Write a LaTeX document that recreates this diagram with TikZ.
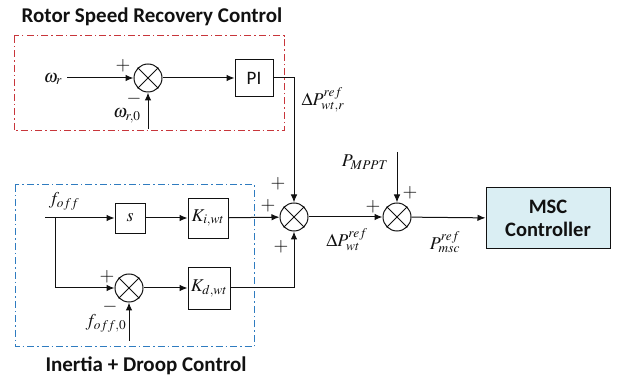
\documentclass[tikz,border=0pt]{standalone}
\usepackage{mathptmx}
\usepackage{fontspec}
\setsansfont{Carlito}
\usepackage{tikz}
\usetikzlibrary{arrows.meta,positioning}
\definecolor{cink}{HTML}{111111}
\definecolor{cred}{HTML}{C8363B}
\definecolor{cblue}{HTML}{2F7CC0}
\definecolor{cfill}{HTML}{DAEEF3}

\begin{document}
\begin{tikzpicture}[x=1pt, y=-1pt,
    sumc/.style={circle, draw=cink, line width=1pt, minimum size=28pt, inner sep=0pt},
    blk/.style={draw=cink, line width=0.9pt, inner sep=0pt, text=cink, font=\fontsize{18}{20}\selectfont},
    lab/.style={inner sep=1pt, text=cink, font=\fontsize{18}{20}\selectfont},
    sg/.style={inner sep=0pt, text=cink, font=\fontsize{19}{21}\selectfont},
    ttl/.style={font=\sffamily\bfseries\fontsize{21}{23}\selectfont, text=cink},
    arr/.style={-{Latex[length=8pt,width=6.5pt]}, cink, line width=1pt},
    ln/.style={cink, line width=1pt},
    grp/.style={line width=1pt, dash pattern=on 7pt off 3pt on 1.5pt off 3pt}]
  \useasboundingbox (0,0) rectangle (632,379);

  % group frames and titles
  \draw[grp, cred] (14,36) rectangle (284,131);
  \draw[grp, cblue] (15,185) rectangle (254,347);
  \node[ttl] (tRS) at (152,17) {Rotor Speed Recovery Control};
  \node[ttl] (tID) at (146,366) {Inertia + Droop Control};

  % blocks
  \node[sumc] (s1) at (148,78) {};
  \node[blk, minimum width=38pt, minimum height=37pt, font=\sffamily\fontsize{19}{21}\selectfont] (pi) at (254,78) {PI};
  \node[sumc] (s2) at (294,217) {};
  \node[blk, minimum width=30pt, minimum height=30pt] (sb) at (130,218) {$s$};
  \node[blk, minimum width=40pt, minimum height=40pt] (ki) at (208,218) {$K_{i,wt}$};
  \node[sumc] (s3) at (129,288) {};
  \node[blk, minimum width=42pt, minimum height=42pt] (kd) at (209,288) {$K_{d,wt}$};
  \node[sumc] (s4) at (397,217) {};
  \node[draw=cink, fill=cfill, line width=1pt, minimum width=124pt, minimum height=61pt,
        align=center, font=\sffamily\bfseries\fontsize{20.5}{23}\selectfont, text=cink] (msc) at (548,218.5) {MSC\\Controller};
  \foreach \s in {s1,s2,s3,s4}
    \draw[ln] (\s.north west) -- (\s.south east) (\s.north east) -- (\s.south west);

  % free ends
  \coordinate (wr) at (67,78);
  \coordinate (wr0) at (148,129);
  \coordinate (fin) at (45,218);
  \coordinate (br) at (55,218);
  \coordinate (f0) at (129,341);
  \coordinate (pm) at (397,152);

  % connectors
  \draw[arr] (wr) -- (s1.west);
  \draw[arr] (wr0) -- (s1.south);
  \draw[arr] (s1) -- (pi);
  \draw[arr] (pi.east) -| (s2.north);
  \draw[arr] (fin) -- (sb);
  \draw[arr] (sb) -- (ki);
  \draw[arr] (ki) -- (s2);
  \draw[arr] (br) |- (s3.west);
  \draw[arr] (f0) -- (s3.south);
  \draw[arr] (s3) -- (kd);
  \draw[arr] (kd.east) -| (s2.south);
  \draw[arr] (s2) -- (s4);
  \draw[arr] (pm) -- (s4.north);
  \draw[arr] (s4) -- (msc);

  % signal labels
  \node[lab] (lwr) at (53,79) {$\omega_r$};
  \node[lab] (lwr0) at (127,116) {$\omega_{r,0}$};
  \node[lab] (ldpr) at (323,100) {$\Delta P^{ref}_{wt,r}$};
  \node[lab] (lf) at (64,201) {$f_{off}$};
  \node[lab] (lf0) at (106,323) {$f_{off,0}$};
  \node[lab] (ldp) at (347,240) {$\Delta P^{ref}_{wt}$};
  \node[lab] (lpm) at (365,162) {$P_{MPPT}$};
  \node[lab] (lpmsc) at (445,242) {$P^{ref}_{msc}$};

  % signs
  \node[sg] (p1) at (123,66) {$+$};
  \node[sg] (m1) at (134,99) {$-$};
  \node[sg] (p3) at (107,277) {$+$};
  \node[sg] (m3) at (110,307) {$-$};
  \node[sg] (p2a) at (278,184) {$+$};
  \node[sg] (p2b) at (268,206) {$+$};
  \node[sg] (p2c) at (281,247) {$+$};
  \node[sg] (p4a) at (410,193) {$+$};
  \node[sg] (p4b) at (373,207) {$+$};
\end{tikzpicture}
\end{document}
